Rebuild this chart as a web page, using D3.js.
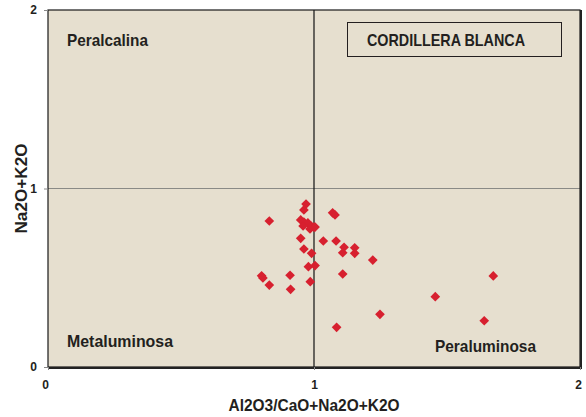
<!DOCTYPE html>
<html>
<head>
<meta charset="utf-8">
<script src="https://cdn.jsdelivr.net/npm/d3@7"></script>
<style>
  body { margin: 0; background: #fff; }
  text { font-family: "Liberation Sans", Arial, sans-serif; font-weight: bold; fill: #231f20; }
</style>
</head>
<body>
<svg id="chart"></svg>
<script>
// ---- data ----
var xValues = [0.832, 0.970, 0.962, 0.950, 0.962, 0.977, 0.989, 1.000, 0.959, 0.985, 1.004,
               1.070, 1.079, 0.950, 1.035, 1.083, 0.962, 0.991, 1.113, 1.108, 1.153, 1.153,
               1.221, 0.979, 1.004, 0.803, 0.808, 0.910, 0.832, 0.912, 0.986, 1.108, 1.248,
               1.085, 1.674, 1.456, 1.640];
var yValues = [0.818, 0.913, 0.880, 0.824, 0.812, 0.807, 0.790, 0.784, 0.790, 0.773, 0.784,
               0.864, 0.852, 0.721, 0.706, 0.706, 0.661, 0.637, 0.671, 0.640, 0.668, 0.637,
               0.599, 0.562, 0.568, 0.511, 0.499, 0.514, 0.459, 0.435, 0.478, 0.521, 0.295,
               0.222, 0.510, 0.394, 0.259];
var xTicks = [0, 1, 2];
var yTicks = [0, 1, 2];
var fieldLabels = ["Peralcalina", "Metaluminosa", "Peraluminosa"];
var titleText = "CORDILLERA BLANCA";

var width = 586, height = 417;
var margin = {top: 10, right: 6, bottom: 50, left: 48};

var svg = d3.select("#chart")
  .attr("width", width)
  .attr("height", height);

var x = d3.scaleLinear().domain([0, 2]).range([margin.left, width - margin.right]);
var y = d3.scaleLinear().domain([0, 2]).range([height - margin.bottom, margin.top]);

// plot background
svg.append("rect")
  .attr("x", x(0))
  .attr("y", y(2))
  .attr("width", x(2) - x(0))
  .attr("height", y(0) - y(2))
  .attr("fill", "#e6dfcf");

// divider lines
svg.append("line")
  .attr("x1", x(0)).attr("x2", x(2))
  .attr("y1", y(1)).attr("y2", y(1))
  .attr("stroke", "#8a8a86")
  .attr("stroke-width", 1.2);

svg.append("line")
  .attr("x1", x(1)).attr("x2", x(1))
  .attr("y1", y(2)).attr("y2", y(0))
  .attr("stroke", "#111")
  .attr("stroke-width", 1.2);

// frame
svg.append("rect")
  .attr("x", x(0))
  .attr("y", y(2))
  .attr("width", x(2) - x(0))
  .attr("height", y(0) - y(2))
  .attr("fill", "none")
  .attr("stroke", "#1a1a1a")
  .attr("stroke-width", 1.2);

svg.append("path")
  .attr("d", "M" + x(0) + "," + (y(0) + 1) + "H" + (x(2) + 1) + "V" + y(2))
  .attr("fill", "none")
  .attr("stroke", "#222")
  .attr("stroke-width", 2);

// axes
var xAxis = svg.append("g")
  .attr("transform", "translate(0," + y(0) + ")")
  .call(d3.axisBottom(x).tickValues(xTicks).tickFormat(d3.format("d")).tickSize(3).tickPadding(8));

var yAxis = svg.append("g")
  .attr("transform", "translate(" + x(0) + ",0)")
  .call(d3.axisLeft(y).tickValues(yTicks).tickFormat(d3.format("d")).tickSize(4).tickPadding(7));

[xAxis, yAxis].forEach(function(g) {
  g.select(".domain").remove();
  g.selectAll(".tick line").attr("stroke", "#888");
  g.selectAll(".tick text")
    .style("font-size", "12px")
    .style("font-family", "Liberation Sans, Arial, sans-serif")
    .style("font-weight", "bold")
    .attr("fill", "#231f20");
});
xAxis.selectAll(".tick text").attr("dy", "0.9em");
xAxis.selectAll(".tick").filter(d => d === 0).select("text").attr("dx", -3);
xAxis.selectAll(".tick").filter(d => d === 2).select("text").attr("dx", -2);

// axis titles
svg.append("text")
  .attr("x", x(1))
  .attr("y", 411)
  .attr("text-anchor", "middle")
  .style("font-size", "16px")
  .attr("textLength", 171)
  .attr("lengthAdjust", "spacingAndGlyphs")
  .text("Al2O3/CaO+Na2O+K2O");

svg.append("text")
  .attr("transform", "translate(27," + y(1) + ") rotate(-90)")
  .attr("text-anchor", "middle")
  .style("font-size", "16px")
  .attr("textLength", 90)
  .attr("lengthAdjust", "spacingAndGlyphs")
  .text("Na2O+K2O");

// field labels
function fieldLabel(txt, px, py, len) {
  svg.append("text")
    .attr("x", px).attr("y", py)
    .style("font-size", "17px")
    .attr("textLength", len)
    .attr("lengthAdjust", "spacingAndGlyphs")
    .text(txt);
}
fieldLabel(fieldLabels[0], 67, 46, 81);
fieldLabel(fieldLabels[1], 67, 347, 106);
fieldLabel(fieldLabels[2], 435, 352, 101);

// title box
svg.append("rect")
  .attr("x", 347.5).attr("y", 22.5)
  .attr("width", 214).attr("height", 34)
  .attr("fill", "none")
  .attr("stroke", "#231f20")
  .attr("stroke-width", 1);

svg.append("text")
  .attr("x", 367).attr("y", 46)
  .style("font-size", "17px")
  .attr("textLength", 158)
  .attr("lengthAdjust", "spacingAndGlyphs")
  .text(titleText);

// points
var points = xValues.map((d, i) => ({x: d, y: yValues[i]}));

svg.selectAll(".pt")
  .data(points)
  .enter()
  .append("path")
    .classed("pt", true)
    .attr("d", d3.symbol().type(d3.symbolDiamond2).size(60))
    .attr("transform", d => "translate(" + x(d.x) + "," + y(d.y) + ")")
    .attr("fill", "#d7202f");
</script>
</body>
</html>
